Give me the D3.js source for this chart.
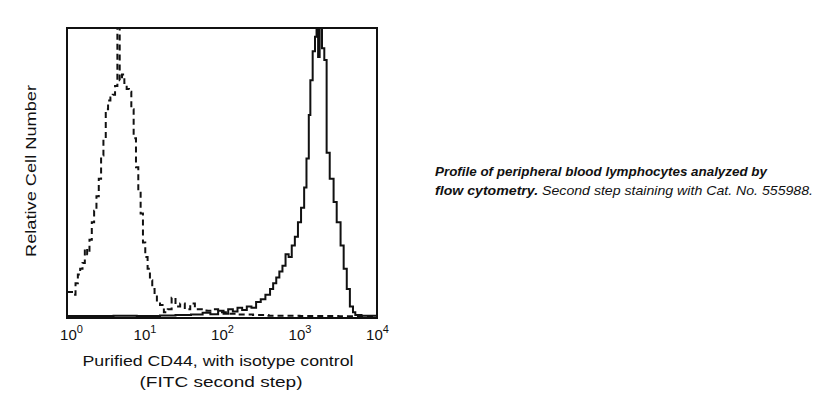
<!DOCTYPE html>
<html>
<head>
<meta charset="utf-8">
<script src="https://cdn.jsdelivr.net/npm/d3@7"></script>
<style>
  body { margin: 0; background: #fff; }
  text { font-family: "Liberation Sans", Arial, sans-serif; fill: #111; }
</style>
</head>
<body>
<div id="chart"></div>
<script>
// isotype control histogram (dashed), log10 of fluorescence vs relative count
var isoLog = [0.00, 0.02, 0.05, 0.08, 0.11, 0.14, 0.17, 0.20, 0.23, 0.26, 0.29, 0.32, 0.35, 0.38, 0.41,
  0.44, 0.47, 0.50, 0.53, 0.56, 0.59, 0.62, 0.65, 0.68, 0.71, 0.74, 0.77, 0.80, 0.83, 0.86, 0.89,
  0.92, 0.95, 0.98, 1.01, 1.04, 1.07, 1.10, 1.13, 1.16, 1.20, 1.25, 1.30, 1.35, 1.40, 1.46, 1.52,
  1.59, 1.65, 1.72, 1.80, 1.88, 1.95, 2.05, 2.20, 2.40, 2.60, 3.00, 3.50, 4.00];
var isoCount = [9, 9, 9, 8, 12, 15, 17, 19, 24, 22, 27, 33, 37, 42, 48,
  56, 62, 72, 75, 76, 77, 80, 112, 82, 84, 81, 79, 78, 72, 62, 52,
  44, 36, 26, 21, 17, 13, 10, 8, 6, 4.5, 2, 3, 7, 4, 5, 3,
  5, 3, 3, 2.5, 3, 2, 1.5, 1.2, 1, 0.8, 0.7, 0.6, 0.6];

// CD44 histogram (solid)
var cd44Log = [0.00, 0.30, 0.60, 0.90, 1.20, 1.40, 1.60, 1.75, 1.85, 1.95, 2.02, 2.08, 2.14, 2.20,
  2.26, 2.32, 2.38, 2.44, 2.50, 2.56, 2.62, 2.66, 2.70, 2.74, 2.78, 2.82, 2.86, 2.90, 2.94, 2.98,
  3.02, 3.06, 3.09, 3.12, 3.14, 3.17, 3.20, 3.22, 3.24, 3.26, 3.29, 3.32, 3.35, 3.39, 3.44, 3.48,
  3.53, 3.57, 3.61, 3.65, 3.69, 3.72, 3.80, 4.00];
var cd44Count = [0.7, 0.7, 0.8, 0.7, 0.9, 1.0, 1.2, 1.8, 1.3, 2.5, 1.5, 3, 2.2, 3.5,
  2.8, 4, 3.5, 5.5, 6.5, 8, 10, 12, 14, 16, 18, 22, 21, 25, 28, 33,
  38, 45, 55, 70, 82, 92, 97, 110, 90, 110, 93, 89, 57, 48, 40, 33,
  25, 17, 10, 4, 2, 1, 0.8, 0.7];

var tickVals = [1, 10, 100, 1000, 10000];
var tickExp = ["0", "1", "2", "3", "4"];

var W = 839, H = 400;
var plot = {left: 67, top: 28, right: 377, bottom: 318};

var svg = d3.select("#chart").append("svg")
  .attr("width", W)
  .attr("height", H)
  .attr("viewBox", [0, 0, W, H]);

var x = d3.scaleLog().domain([1, 10000]).range([plot.left, plot.right]);
var y = d3.scaleLinear().domain([0, 100]).range([plot.bottom, plot.top]);

svg.append("clipPath").attr("id", "clip")
  .append("rect")
    .attr("x", plot.left).attr("y", plot.top)
    .attr("width", plot.right - plot.left).attr("height", plot.bottom - plot.top);

var line = d3.line()
  .x(d => x(Math.pow(10, d[0])))
  .y(d => y(d[1]))
  .curve(d3.curveStepAfter);

var g = svg.append("g").attr("clip-path", "url(#clip)");

g.append("path")
  .datum(d3.zip(isoLog, isoCount))
  .attr("d", line)
  .attr("fill", "none")
  .attr("stroke", "#111")
  .attr("stroke-width", 2)
  .attr("stroke-dasharray", "6,4");

g.append("path")
  .datum(d3.zip(cd44Log, cd44Count))
  .attr("d", line)
  .attr("fill", "none")
  .attr("stroke", "#111")
  .attr("stroke-width", 2);

// frame
svg.append("rect")
  .attr("x", plot.left).attr("y", plot.top)
  .attr("width", plot.right - plot.left).attr("height", plot.bottom - plot.top)
  .attr("fill", "none")
  .attr("stroke", "#111")
  .attr("stroke-width", 2);

// x axis labels 10^n
var axis = svg.append("g")
  .attr("transform", "translate(0," + plot.bottom + ")")
  .call(d3.axisBottom(x).tickValues(tickVals).tickSize(0).tickFormat(""));
axis.select(".domain").remove();

axis.selectAll(".tick").each(function(d, i) {
  var t = d3.select(this).append("text")
    .attr("x", i == 0 ? 4 : 0)
    .attr("y", 22)
    .attr("text-anchor", "middle")
    .style("font-size", "15px");
  t.append("tspan").text("10");
  t.append("tspan").attr("dy", -7).style("font-size", "11px").text(tickExp[i]);
});

svg.append("text")
  .attr("x", 218).attr("y", 366)
  .attr("text-anchor", "middle")
  .attr("textLength", 271)
  .attr("lengthAdjust", "spacingAndGlyphs")
  .style("font-size", "15px")
  .text("Purified CD44, with isotype control");
svg.append("text")
  .attr("x", 221).attr("y", 387)
  .attr("text-anchor", "middle")
  .attr("textLength", 163)
  .attr("lengthAdjust", "spacingAndGlyphs")
  .style("font-size", "15px")
  .text("(FITC second step)");

svg.append("text")
  .attr("transform", "translate(36,171) rotate(-90)")
  .attr("text-anchor", "middle")
  .attr("textLength", 172)
  .attr("lengthAdjust", "spacingAndGlyphs")
  .style("font-size", "15px")
  .text("Relative Cell Number");

// caption
var cap = svg.append("g").attr("transform", "translate(435,0)");
cap.append("text")
  .attr("y", 176)
  .attr("textLength", 332)
  .attr("lengthAdjust", "spacingAndGlyphs")
  .style("font-size", "13.5px")
  .style("font-weight", "bold")
  .style("font-style", "italic")
  .text("Profile of peripheral blood lymphocytes analyzed by");
var l2 = cap.append("text")
  .attr("y", 195)
  .attr("textLength", 378)
  .attr("lengthAdjust", "spacingAndGlyphs")
  .style("font-size", "13.5px")
  .style("font-style", "italic");
l2.append("tspan").style("font-weight", "bold").text("flow cytometry.");
l2.append("tspan").text(" Second step staining with Cat. No. 555988.");
</script>
</body>
</html>
